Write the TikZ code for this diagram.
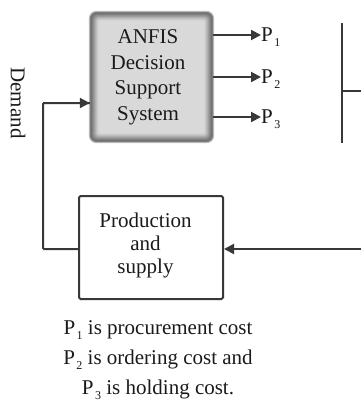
\documentclass[tikz,border=0pt]{standalone}
\usepackage{fontspec}
\setmainfont{Liberation Serif}
\usetikzlibrary{arrows.meta,calc}
\definecolor{ln}{HTML}{383838}
\definecolor{tx}{HTML}{1A1A1A}
\newcommand{\psub}[1]{\kern1.5pt\raisebox{-5pt}{\fontsize{12}{12}\selectfont #1}}
\tikzset{
  base/.style={font=\fontsize{21}{24}\selectfont, text=tx},
  conn/.style={draw=ln, line width=2pt},
  arr/.style={conn, -{Triangle[length=10pt,width=10pt]}},
  plabel/.style={base, anchor=west, inner sep=0pt, text height=13.5pt, text depth=0pt},
  prodbox/.style={draw=ln, line width=2pt, rounded corners=1.5pt, minimum width=144pt, minimum height=103pt},
  dssbox/.style={minimum width=123pt, minimum height=130pt, inner sep=0pt}
}
\begin{document}
\begin{tikzpicture}[x=1pt,y=-1pt]
\useasboundingbox (0,0) rectangle (361,404);
% ANFIS box with shaded edges
\node[dssbox] (dss) at (151.5,77) {};
\foreach \i/\c in {-1/25,0/50,1/56,2/50,3/44,4/38,5/32,6/26,7/21,8/17,9/15}{
  \fill[black!\c, rounded corners={max(7-0.6*\i,1)*1pt}] ([shift={(\i pt,-\i pt)}]dss.north west) rectangle ([shift={(-\i pt,\i pt)}]dss.south east);
}
\node[base, align=center, font=\fontsize{21}{25.5}\selectfont] (dsstext) at (148,77.5) {ANFIS\\Decision\\Support\\System};
% outputs
\node[plabel] (p1) at (261,35) {P\psub{1}};
\node[plabel] (p2) at (261,77) {P\psub{2}};
\node[plabel] (p3) at (261,117) {P\psub{3}};
\draw[arr] (dss.east |- p1.west) -- (p1.west);
\draw[arr] (dss.east |- p2.west) -- (p2.west);
\draw[arr] (dss.east |- p3.west) -- (p3.west);
% partial bracket at right
\coordinate (vt) at (342,23);
\coordinate (vb) at (342,143);
\coordinate (vm) at (342,91);
\coordinate (ve) at (361,91);
\draw[conn] (vt) -- (vb);
\draw[conn] (vm) -- (ve);
% production box
\node[prodbox] (prod) at (151,247.5) {};
\node[base, align=center, font=\fontsize{21}{23}\selectfont] (prodtext) at (145.5,245) {Production\\and\\supply};
\coordinate (inR) at (361,249);
\draw[arr] (inR) -- (prod.east |- inR);
% demand feedback
\coordinate (fbA) at (43,249);
\coordinate (fbB) at (43,103);
\draw[conn, rounded corners=1pt] (prod.west |- fbA) -- (fbA) -- (fbB) -- (fbB -| dss.west) ;
\draw[arr] (fbB) -- (fbB -| dss.west);
\node[base, rotate=-90] (demand) at (18,103) {Demand};
% legend
\node[base, align=center, font=\fontsize{21}{30}\selectfont] (legend) at (158,360) {P\psub{1} is procurement cost\\P\psub{2} is ordering cost and\\P\psub{3} is holding cost.};
\end{tikzpicture}
\end{document}
